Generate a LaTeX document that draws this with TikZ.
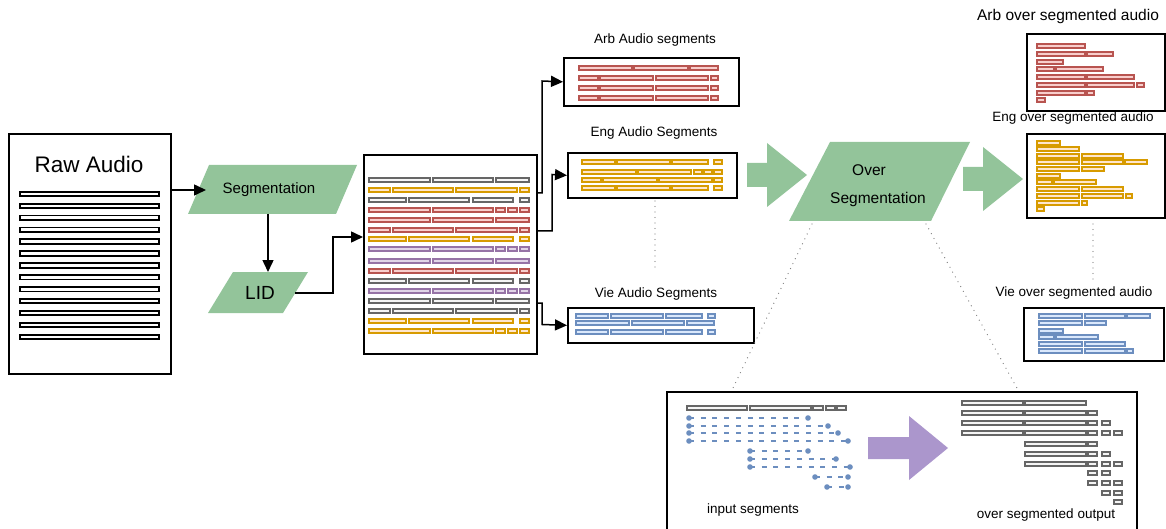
\documentclass[tikz,border=0pt]{standalone}
\usepackage{fontspec}
\setmainfont{Liberation Sans}
\usetikzlibrary{arrows.meta}

\definecolor{gryD}{HTML}{666666}\definecolor{gryL}{HTML}{F5F5F5}
\definecolor{yelD}{HTML}{D79B00}\definecolor{yelL}{HTML}{FFE6CC}
\definecolor{rdD}{HTML}{B85450}\definecolor{rdL}{HTML}{F8CECC}
\definecolor{purD}{HTML}{9673A6}\definecolor{purL}{HTML}{E1D5E7}
\definecolor{bluD}{HTML}{6C8EBF}\definecolor{bluL}{HTML}{DAE8FC}
\definecolor{flowgreen}{HTML}{93C49A}
\definecolor{flowpurple}{HTML}{AB96CC}

\newcommand{\fsz}[1]{\fontsize{#1}{#1}\selectfont}
\def\bh{2.3}

\tikzset{
  seg/.style={draw=#1D, fill=#1L, line width=1.7pt},
  rawbar/.style={draw=black, fill=white, line width=1.8pt},
  frame/.style={draw=black, line width=1.7pt, inner sep=0pt, anchor=north west},
  link/.style={draw=black, line width=1.5pt, -{Triangle[length=12pt,width=11pt]}},
  dotline/.style={draw=gray, line width=1.3pt, dash pattern=on 0pt off 5.5pt, line cap=round},
  inseg/.style={draw=bluD, line width=1.5pt, dash pattern=on 5pt off 6.7pt},
  lbl/.style={font=\fsz{13.5}},
}

\def\patA{369/430,433/493,496/529}
\def\patB{369/390,393/453,456/517,520/529}
\def\patC{369/406,409/469,473/513,520/529}
\def\patD{369/430,433/493,496/505,508/517,520/529}

\begin{document}
\begin{tikzpicture}[x=1pt,y=-1pt]
  \useasboundingbox (0,0) rectangle (1166,529);

  % raw audio
  \node[frame, minimum width=162pt, minimum height=240pt] (raw) at (8,133) {};
  \node[font=\fsz{22.5}] (rawtitle) at (89,164) {Raw Audio};
  \foreach \i in {0,...,12}
    \draw[rawbar] (20,194+\i*11.9-2.2) rectangle (159,194+\i*11.9+2.2);

  % segmentation and LID
  \fill[flowgreen] (209,165) -- (357,165) -- (336,214) -- (188,214) -- cycle;
  \node[font=\fsz{15}] (seg) at (269,190) {Segmentation};
  \fill[flowgreen] (233,272) -- (308,272) -- (283,313) -- (208,313) -- cycle;
  \node[font=\fsz{19}] (lid) at (260,293) {LID};
  \coordinate (segW) at (206,190);
  \coordinate (segS) at (268,214);
  \coordinate (lidN) at (268,272);
  \coordinate (lidE) at (295,293);
  \coordinate (jogL) at (333,237);

  % mixed segments
  \node[frame, minimum width=173pt, minimum height=199pt] (mix) at (363,154) {};
  \foreach \clr/\y/\p in {gry/180/A, yel/190/B, gry/200/C, rd/210/D, rd/220/A, rd/230/B,
      yel/239/C, pur/249/D, pur/261/A, rd/271/B, gry/281/C, pur/291/D, gry/301/A,
      gry/311/B, yel/321/C, yel/331/D}
  {\edef\segs{\csname pat\p\endcsname}
   \foreach \a/\b in \segs {\draw[seg=\clr] (\a,\y-\bh) rectangle (\b,\y+\bh);}}

  \draw[link] (raw.east |- segW) -- (segW);
  \draw[link] (segS) -- (lidN);
  \draw[link] (lidE) -| (jogL) -- (mix.west |- jogL);

  % language segments
  \node[frame, minimum width=175pt, minimum height=48pt] (arb) at (563,57) {};
  \node[lbl] (arbtxt) at (655,40) {Arb Audio segments};
  \node[frame, minimum width=169pt, minimum height=45pt] (eng) at (567,152) {};
  \node[lbl] (engtxt) at (654,133) {Eng Audio Segments};
  \node[frame, minimum width=186pt, minimum height=35pt] (vie) at (567,307) {};
  \node[lbl] (vietxt) at (656,294) {Vie Audio Segments};

  \foreach \y/\segs in {68/{579/632,634/688,690/718}, 78/{579/598,600/653,656/708,711/718},
      88/{579/598,600/653,656/708,711/718}, 98/{579/598,600/653,656/708,711/718}}
    {\foreach \a/\b in \segs {\draw[seg=rd] (\a,\y-\bh) rectangle (\b,\y+\bh);}}
  \foreach \y/\segs in {162/{582/615,617/670,672/708,714/722},
      172/{582/636,638/691,694/702,704/712,714/722},
      180/{582/601,603/657,659/712,714/722}, 188/{582/615,617/670,672/708,714/722}}
    {\foreach \a/\b in \segs {\draw[seg=yel] (\a,\y-\bh) rectangle (\b,\y+\bh);}}
  \foreach \y/\segs in {316/{576/608,611/663,666/702,708/715}, 323/{576/629,632/684,687/714},
      332/{576/608,611/663,666/702,708/715}}
    {\foreach \a/\b in \segs {\draw[seg=blu] (\a,\y-\bh) rectangle (\b,\y+\bh);}}

  \coordinate (outA) at (536,193);
  \coordinate (outE) at (536,231);
  \coordinate (outV) at (536,303);
  \coordinate (jogA) at (542,81);
  \coordinate (jogE) at (552,174.5);
  \coordinate (jogV) at (542,324.5);
  \draw[link] (outA) -| (jogA) -- (arb.west);
  \draw[link] (outE) -| (jogE) -- (eng.west);
  \draw[link] (outV) -| (jogV) -- (vie.west);

  \coordinate (engS) at (655,201);
  \coordinate (vieN) at (655,268);
  \draw[dotline] (engS) -- (vieN);

  % over segmentation
  \fill[flowgreen] (747,163) -- (767,163) -- (767,143) -- (807,175) -- (767,207) -- (767,187) -- (747,187) -- cycle;
  \fill[flowgreen] (830,142) -- (970,142) -- (931,221) -- (789,221) -- cycle;
  \node[font=\fsz{15.5}] (overtxt) at (869,170) {Over};
  \node[font=\fsz{15.5}] (overseg) at (878,199) {Segmentation};
  \fill[flowgreen] (963,167) -- (983,167) -- (983,147) -- (1023,179) -- (983,211) -- (983,191) -- (963,191) -- cycle;

  % over segmented outputs
  \node[frame, minimum width=138pt, minimum height=77pt] (arbo) at (1026,33) {};
  \node[font=\fsz{15.5}] (arbotxt) at (1068,16) {Arb over segmented audio};
  \node[frame, minimum width=138pt, minimum height=84pt] (engo) at (1026,133) {};
  \node[lbl] (engotxt) at (1073,118) {Eng over segmented audio};
  \node[frame, minimum width=140pt, minimum height=53pt] (vieo) at (1023,307) {};
  \node[lbl] (vieotxt) at (1074,293) {Vie over segmented audio};

  \foreach \y/\segs in {46/{1037/1085}, 54/{1037/1085,1087/1113}, 62/{1037/1063},
      69/{1037/1054,1056/1103}, 77/{1037/1085,1087/1134}, 85/{1037/1085,1087/1134,1137/1144},
      93/{1037/1085,1087/1094}, 100/{1037/1045}}
    {\foreach \a/\b in \segs {\draw[seg=rd] (\a,\y-2) rectangle (\b,\y+2);}}
  \foreach \y/\segs in {143/{1037/1060}, 149/{1037/1079}, 156/{1037/1079,1082/1123},
      162/{1037/1079,1082/1123,1125/1147}, 169/{1037/1079,1082/1104}, 176/{1037/1060},
      182/{1037/1052,1054/1096}, 189/{1037/1079,1082/1123}, 196/{1037/1079,1082/1123,1126/1132},
      203/{1037/1079,1082/1087}, 209/{1037/1044}}
    {\foreach \a/\b in \segs {\draw[seg=yel] (\a,\y-2) rectangle (\b,\y+2);}}
  \foreach \y/\segs in {316/{1039/1082,1085/1125,1127/1150}, 323/{1039/1082,1085/1106},
      331/{1039/1063}, 337/{1039/1054,1056/1098}, 344/{1039/1082,1085/1125},
      351/{1039/1082,1085/1125,1127/1133}}
    {\foreach \a/\b in \segs {\draw[seg=blu] (\a,\y-2) rectangle (\b,\y+2);}}

  \coordinate (engoS) at (1093,224);
  \coordinate (vieoN) at (1093,282);
  \draw[dotline] (engoS) -- (vieoN);

  % zoomed detail
  \coordinate (overL) at (812,224);
  \coordinate (overR) at (926,224);
  \coordinate (zoomL) at (733,388);
  \coordinate (zoomR) at (1018,390);
  \draw[dotline] (overL) -- (zoomL);
  \draw[dotline] (overR) -- (zoomR);
  \draw[line width=1.7pt] (667,540) -- (667,392) -- (1137,392) -- (1137,540);

  \foreach \a/\b in {687/747,750/811,813/823,826/835,837/846}
    \draw[seg=gry] (\a,408-\bh) rectangle (\b,408+\bh);
  \foreach \y/\a/\b in {418/689/808, 426/689/828, 433/689/838, 441/689/848, 451/750/808,
      459/750/836, 467/750/850, 477/815/848, 487/827/848}
  {\draw[inseg] (\a,\y) -- (\b,\y);
   \fill[bluD] (\a,\y) circle (2.8pt) (\b,\y) circle (2.8pt);}
  \node[lbl] (intxt) at (753,510) {input segments};

  \fill[flowpurple] (868,437) -- (909,437) -- (909,416) -- (948,448) -- (909,480) -- (909,459) -- (868,459) -- cycle;

  \foreach \y/\segs in {403/{962/1023,1025/1086}, 413/{962/1023,1025/1086,1088/1097},
      423/{962/1023,1025/1086,1088/1097,1102/1110},
      433/{962/1023,1025/1086,1088/1097,1102/1110,1114/1122},
      444/{1025/1086,1088/1097}, 454/{1025/1086,1088/1097,1102/1110},
      464/{1025/1086,1088/1097,1102/1110,1114/1122}, 473/{1088/1097,1102/1110},
      483/{1088/1097,1102/1110,1114/1122}, 493/{1102/1110,1114/1122}, 502/{1114/1122}}
    {\foreach \a/\b in \segs {\draw[seg=gry] (\a,\y-2.2) rectangle (\b,\y+2.2);}}
  \node[lbl] (outtxt) at (1046,515) {over segmented output};
\end{tikzpicture}
\end{document}
